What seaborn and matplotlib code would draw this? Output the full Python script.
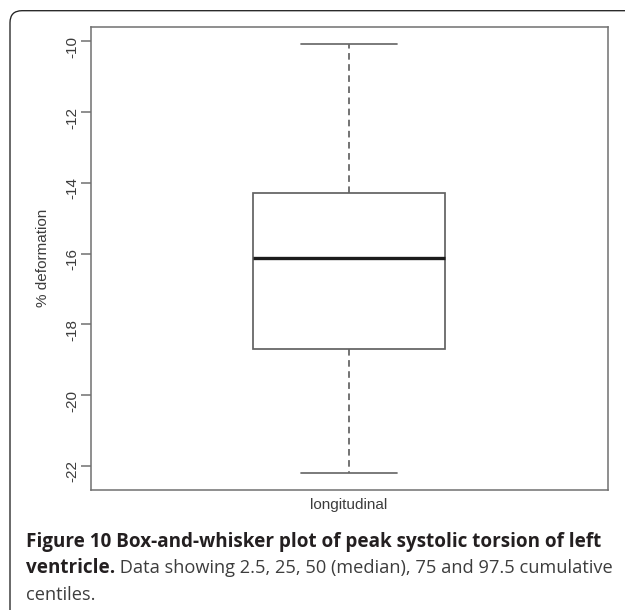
import matplotlib
matplotlib.use("Agg")
import matplotlib.pyplot as plt
from matplotlib.patches import FancyBboxPatch
from matplotlib.transforms import IdentityTransform
import pandas as pd
import seaborn as sns

# Peak systolic longitudinal deformation: 2.5, 25, 50, 75 and 97.5 centiles
categories = ["longitudinal"]
centile_levels = [2.5, 25, 50, 75, 97.5]
deformation = [-22.20, -18.71, -16.12, -14.29, -10.07]
y_ticks = [-22, -20, -18, -16, -14, -12, -10]
y_label = "% deformation"

caption_title = "Figure 10 Box-and-whisker plot of peak systolic torsion of left"
caption_title_end = "ventricle."
caption_body = " Data showing 2.5, 25, 50 (median), 75 and 97.5 cumulative"
caption_last = "centiles."

sns.set_theme(style="white")
plt.rcParams["font.family"] = ["Liberation Sans", "DejaVu Sans"]

W, H = 625, 610
fig = plt.figure(figsize=(W / 100, H / 100), dpi=100)
fig.patch.set_facecolor("white")

ax_left, ax_right, ax_top, ax_bottom = 90.7, 607.5, 26.7, 490.0
ax = fig.add_axes([ax_left / W, 1 - ax_bottom / H,
                   (ax_right - ax_left) / W, (ax_bottom - ax_top) / H])

# one box per category; whiskers span the full set of centiles
df = pd.DataFrame({
    "region": [categories[0]] * len(deformation),
    "deformation": deformation,
    "centile": centile_levels,
})
box_grey = "#626262"
sns.boxplot(
    data=df, x="region", y="deformation", ax=ax,
    whis=(0, 100), width=0.4, color="white", linecolor=box_grey,
    linewidth=1.25, showfliers=False,
    whiskerprops=dict(linestyle=(0, (3.8, 2.6)), color=box_grey),
    capprops=dict(color="#6a6a6a"),
    medianprops=dict(color="#1c1c1c", linewidth=2.4),
)

lo, hi = min(deformation), max(deformation)
span = hi - lo
ax.set_ylim(lo - 0.04 * span, hi + 0.04 * span)
ax.set_xlim(-0.54, 0.54)

for s in ax.spines.values():
    s.set_visible(True)
    s.set_color("#707070")
    s.set_linewidth(1.1)

text_grey = "#3c3c3c"
ax.set_yticks(y_ticks)
ax.set_yticklabels([f"{t:d}" for t in y_ticks])
ax.tick_params(axis="y", left=True, length=7, width=1.1, color="#707070",
               labelsize=11, labelcolor=text_grey, labelrotation=90, pad=1)
ax.tick_params(axis="x", bottom=False, length=0, labelsize=11,
               labelcolor=text_grey, pad=6)
ax.set_xlabel("")
ax.set_ylabel(y_label, fontsize=11, color=text_grey)
ax.yaxis.set_label_coords((50 - ax_left) / (ax_right - ax_left), 0.5)

# rounded panel frame running off the right and bottom edges
frame = FancyBboxPatch((10, -20), 660, H - 10.7 + 20,
                       boxstyle="round,pad=0,rounding_size=12",
                       transform=IdentityTransform(), fill=False,
                       edgecolor="#222222", linewidth=0.95)
fig.add_artist(frame)

# caption
cap_x = 26 / W
bold_kw = dict(fontfamily="Open Sans", fontweight="bold", color="#231f20",
               va="baseline", ha="left")
reg_kw = dict(fontfamily="Open Sans", color="#3d3d3d", va="baseline",
              ha="left")

renderer = fig.canvas.get_renderer()
t1 = fig.text(cap_x, (H - 546.7) / H, caption_title, fontsize=12, **bold_kw)
w1 = t1.get_window_extent(renderer).width
size = 12 * 574.0 / w1
t1.set_fontsize(size)

t2 = fig.text(cap_x, (H - 573.2) / H, caption_title_end, fontsize=size, **bold_kw)
x2 = t2.get_window_extent(renderer).x1
t3 = fig.text(x2 / W, (H - 573.2) / H, caption_body, fontsize=size, **reg_kw)
w3 = t3.get_window_extent(renderer).width
body_size = size * (613.0 - x2) / w3
t3.set_fontsize(body_size)
fig.text(cap_x, (H - 600.0) / H, caption_last, fontsize=body_size, **reg_kw)

fig.savefig("out.png", dpi=100, facecolor="white")
